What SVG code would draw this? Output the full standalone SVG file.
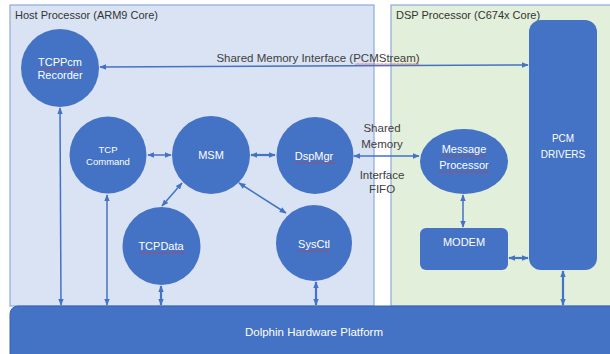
<svg xmlns="http://www.w3.org/2000/svg" width="610" height="354" viewBox="0 0 610 354">
<style>
.panelH{fill:#dae3f3;stroke:#8eaadb;stroke-width:1.2}
.panelD{fill:#e2efda;stroke:#8eaadb;stroke-width:1.2}
.title{font-family:"Liberation Sans",Arial,sans-serif;font-size:11px;fill:#333}
.lbl{font-family:"Liberation Sans",Arial,sans-serif;font-size:11.5px;fill:#404040;text-anchor:middle}
.node{fill:#4472c4}
.nt{font-family:"Liberation Sans",Arial,sans-serif;font-size:11px;fill:#fff;text-anchor:middle}
.small{font-size:9.5px}
.mid{font-size:10px}
.conn{stroke:#4472c4;stroke-width:1.5;fill:none;marker-start:url(#ah);marker-end:url(#ah)}
.thick{stroke-width:2.2}
.sq{fill:url(#squig)}
</style>
<defs>
<marker id="ah" viewBox="0 0 10 10" refX="9" refY="5" markerWidth="7" markerHeight="7" orient="auto-start-reverse" markerUnits="userSpaceOnUse">
<path d="M0,1 L10,5 L0,9 z" fill="#4472c4"/>
</marker>
<pattern id="squig" width="4" height="2" patternUnits="userSpaceOnUse">
<path d="M0,1.5 L1,0.5 L2,1.5 L3,0.5 L4,1.5" stroke="#e03030" stroke-width="0.7" fill="none"/>
</pattern>
</defs>

<g id="host-panel">
<rect class="panelH" x="10" y="5" width="364" height="301"/>
<text class="title" x="15" y="19">Host Processor (ARM9 Core)</text>
</g>
<g id="dsp-panel">
<rect class="panelD" x="391" y="5" width="230" height="301"/>
<text class="title" x="396" y="19">DSP Processor (C674x Core)</text>
</g>

<g id="connectors">
<line class="conn" x1="100" y1="67" x2="528" y2="65"/>
<line class="conn" x1="148" y1="155" x2="171" y2="155"/>
<line class="conn thick" x1="251" y1="155" x2="275" y2="155"/>
<line class="conn" x1="354" y1="156" x2="419" y2="156"/>
<line class="conn" x1="182" y1="183" x2="162" y2="206"/>
<line class="conn" x1="239" y1="183" x2="286" y2="213"/>
<line class="conn" x1="60" y1="108" x2="61" y2="305"/>
<line class="conn" x1="107" y1="195" x2="107" y2="305"/>
<line class="conn thick" x1="161" y1="286" x2="161" y2="305"/>
<line class="conn thick" x1="316" y1="282" x2="316" y2="305"/>
<line class="conn" x1="463" y1="195" x2="463" y2="227"/>
<line class="conn thick" x1="509" y1="258" x2="528" y2="258"/>
<line class="conn thick" x1="563" y1="271" x2="563" y2="305"/>
<text class="lbl" x="318" y="62">Shared Memory Interface (PCMStream)</text>
<rect class="sq" x="355" y="63" width="64" height="2"/>
<text class="lbl" x="382" y="132">Shared</text>
<text class="lbl" x="382" y="148">Memory</text>
<text class="lbl" x="382" y="179">Interface</text>
<text class="lbl" x="382" y="193">FIFO</text>
</g>

<g id="tcppcm-recorder">
<circle class="node" cx="60" cy="68" r="39"/>
<text class="nt" x="60" y="66">TCPPcm</text>
<rect class="sq" x="41" y="68" width="39" height="2"/>
<text class="nt" x="60" y="79">Recorder</text>
</g>
<g id="tcp-command">
<circle class="node" cx="108" cy="155" r="38.5"/>
<text class="nt small" x="108" y="153">TCP</text>
<text class="nt small" x="108" y="165">Command</text>
</g>
<g id="msm">
<circle class="node" cx="211" cy="155" r="39"/>
<text class="nt" x="211" y="159">MSM</text>
</g>
<g id="dspmgr">
<circle class="node" cx="315" cy="155.5" r="38.5"/>
<text class="nt" x="314" y="160">DspMgr</text>
<rect class="sq" x="294" y="162" width="42" height="2"/>
</g>
<g id="tcpdata">
<circle class="node" cx="161.5" cy="246" r="39"/>
<text class="nt" x="161" y="250">TCPData</text>
<rect class="sq" x="139" y="252" width="45" height="2"/>
</g>
<g id="sysctl">
<circle class="node" cx="314" cy="243" r="38"/>
<text class="nt" x="314" y="248">SysCtl</text>
<rect class="sq" x="298" y="250" width="32" height="2"/>
</g>
<g id="message-processor">
<ellipse class="node" cx="464" cy="161.5" rx="44" ry="32.5"/>
<text class="nt" x="464" y="153">Message</text>
<rect class="sq" x="441" y="155" width="45" height="2"/>
<text class="nt" x="464" y="169">Processor</text>
<rect class="sq" x="439" y="171" width="50" height="2"/>
</g>
<g id="modem">
<rect class="node" x="420" y="228" width="88" height="42" rx="6"/>
<text class="nt" x="464" y="246">MODEM</text>
</g>
<g id="pcm-drivers">
<rect class="node" x="529" y="20" width="68" height="250" rx="12"/>
<text class="nt mid" x="563" y="142">PCM</text>
<text class="nt mid" x="563" y="158">DRIVERS</text>
</g>
<g id="dolphin-platform">
<rect class="node" x="10" y="306" width="612" height="60" rx="8" stroke="#3a63ad" stroke-width="1"/>
<text class="nt" x="314" y="336" style="font-size:11.5px">Dolphin Hardware Platform</text>
</g>
</svg>
